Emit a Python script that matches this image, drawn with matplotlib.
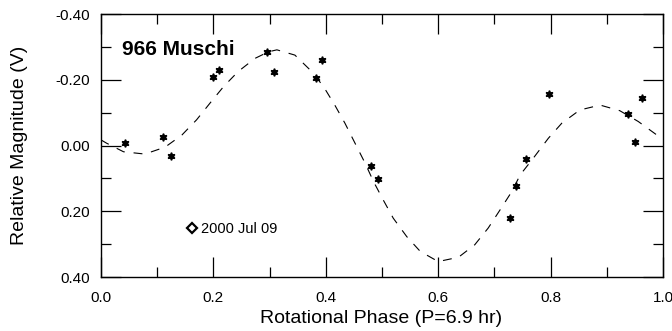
import matplotlib
matplotlib.use("Agg")
import matplotlib.pyplot as plt
from matplotlib.ticker import MultipleLocator, FormatStrFormatter
from matplotlib.lines import Line2D

# observed points (phase, relative mag)
phase = [0.042, 0.110, 0.125, 0.199, 0.210, 0.296, 0.307, 0.382, 0.393,
         0.480, 0.493, 0.728, 0.738, 0.757, 0.797, 0.937, 0.950, 0.962]
mag = [-0.009, -0.025, 0.032, -0.209, -0.230, -0.285, -0.225, -0.206, -0.261,
       0.061, 0.102, 0.220, 0.124, 0.040, -0.157, -0.097, -0.010, -0.143]

# fitted curve
fit_x = [0.000, 0.010, 0.040, 0.078, 0.114, 0.144, 0.170, 0.194, 0.218, 0.244,
         0.274, 0.298, 0.313, 0.345, 0.375, 0.396, 0.416, 0.434, 0.452, 0.470,
         0.485, 0.502, 0.520, 0.544, 0.568, 0.600, 0.636, 0.665, 0.689, 0.710,
         0.731, 0.746, 0.769, 0.796, 0.820, 0.852, 0.888, 0.923, 0.956, 0.989,
         1.000]
fit_y = [-0.017, -0.007, 0.019, 0.026, 0.005, -0.032, -0.078, -0.129, -0.179, -0.225,
         -0.265, -0.285, -0.291, -0.275, -0.225, -0.179, -0.123, -0.068, -0.007, 0.054,
         0.110, 0.165, 0.221, 0.277, 0.322, 0.353, 0.340, 0.302, 0.251, 0.196,
         0.140, 0.089, 0.039, -0.022, -0.068, -0.108, -0.123, -0.106, -0.073, -0.032,
         -0.020]

plt.rcParams['font.family'] = ['Liberation Sans', 'DejaVu Sans']

fig = plt.figure(figsize=(6.72, 3.31), dpi=100)
ax = fig.add_axes([0.1503, 0.1631, 0.8363, 0.7946])

ax.plot(fit_x, fit_y, color='black', lw=0.8, linestyle=(0, (8, 8)))
ax.plot(phase, mag, linestyle='none', marker=(6, 1, 0), ms=5.5,
        color='black', mec='black')

ax.set_xlim(0, 1)
ax.set_ylim(0.40, -0.40)
ax.xaxis.set_major_locator(MultipleLocator(0.2))
ax.xaxis.set_minor_locator(MultipleLocator(0.1))
ax.yaxis.set_major_locator(MultipleLocator(0.2))
ax.yaxis.set_minor_locator(MultipleLocator(0.1))
ax.xaxis.set_major_formatter(FormatStrFormatter('%.1f'))
ax.yaxis.set_major_formatter(FormatStrFormatter('%.2f'))

ax.tick_params(which='both', direction='in', top=True, right=True, width=0.9)
ax.tick_params(which='major', length=14.4, labelsize=11)
ax.tick_params(axis='x', which='major', pad=10)
ax.tick_params(axis='y', which='major', pad=8)
ax.tick_params(which='minor', length=7.2)
for s in ax.spines.values():
    s.set_linewidth(1.0)

ax.set_xlabel('Rotational Phase (P=6.9 hr)', fontsize=14, va='top')
ax.xaxis.set_label_coords(0.498, -0.125)
ax.set_ylabel('Relative Magnitude (V)', fontsize=14)
ax.yaxis.set_label_coords(-0.13, 0.5)

ax.text(0.037, 0.844, '966 Muschi', transform=ax.transAxes, fontsize=15,
        fontweight='bold', va='baseline')

handle = Line2D([], [], linestyle='none', marker='D', ms=5, mfc='white',
                mec='black', mew=1.6)
leg = ax.legend([handle], ['2000 Jul 09'], loc='center left',
                bbox_to_anchor=(0.155, 0.183), frameon=False, borderpad=0,
                borderaxespad=0, handlelength=0.6, handletextpad=0.3,
                prop={'size': 10.5})

fig.savefig('out.png', dpi=100)
